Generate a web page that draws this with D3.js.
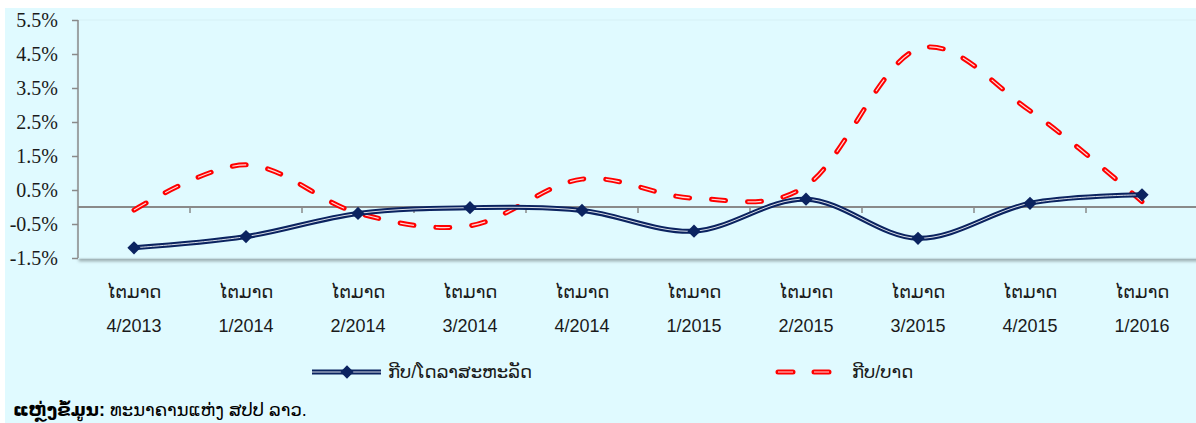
<!DOCTYPE html>
<html>
<head>
<meta charset="utf-8">
<script src="https://cdn.jsdelivr.net/npm/d3@7"></script>
<style>
  body { margin: 0; background: #fff; }
  svg { display: block; }
</style>
</head>
<body>
<svg width="1196" height="423"></svg>
<script>
// quarters along the x axis
var quarters = ["4/2013", "1/2014", "2/2014", "3/2014", "4/2014", "1/2015", "2/2015", "3/2015", "4/2015", "1/2016"];
var quarterWord = "ໄຕມາດ";
// kip / US dollar (%)
var kipUsd = [-1.20, -0.87, -0.19, -0.02, -0.10, -0.71, 0.23, -0.92, 0.11, 0.36];
// kip / baht (%)
var kipThb = [-0.09, 1.24, -0.18, -0.55, 0.82, 0.26, 0.62, 4.65, 2.83, 0.16];
var yTicks = [-1.5, -0.5, 0.5, 1.5, 2.5, 3.5, 4.5, 5.5];
var seriesNames = ["ກີບ/ໂດລາສະຫະລັດ", "ກີບ/ບາດ"];
var sourceBold = "ແຫຼ່ງຂໍ້ມູນ:";
var sourceText = " ທະນາຄານແຫ່ງ ສປປ ລາວ.";

var svg = d3.select("svg");
var bg = "#E0FAFF", navy = "#0B2360", red = "#FF0000", axisGray = "#8A8A8A";
var laoFont = "'Liberation Sans', 'DejaVu Sans', sans-serif";

svg.append("rect").attr("x", 5).attr("y", 8).attr("width", 1191).attr("height", 415).attr("fill", bg);

var defs = svg.append("defs");
var f = defs.append("filter").attr("id", "shadow").attr("x", "-5%").attr("y", "-5%").attr("width", "110%").attr("height", "120%");
f.append("feDropShadow").attr("dx", 1).attr("dy", 3).attr("stdDeviation", 1.5).attr("flood-color", "#000").attr("flood-opacity", 0.3);

var x = d3.scaleBand().domain(quarters).range([78, 1198]).padding(0);
var y = d3.scaleLinear().domain([-1.5, 5.5]).range([258, 20]);
var cx = function(i) { return x(quarters[i]) + x.bandwidth() / 2; };

// plot area
svg.append("rect").attr("x", 78).attr("y", 20).attr("width", 1120).attr("height", 238)
  .attr("fill", bg).attr("stroke", "#d4eef2").attr("stroke-width", 0.8).attr("filter", "url(#shadow)");

// y axis
var yAxis = svg.append("g").attr("transform", "translate(78,0)")
  .call(d3.axisLeft(y).tickValues(yTicks).tickSize(6).tickPadding(14)
    .tickFormat(function(d) { return d.toFixed(1) + "%"; }));
yAxis.select(".domain").attr("stroke", axisGray).attr("stroke-width", 1.5).attr("d", "M0,20V258");
yAxis.selectAll(".tick line").attr("stroke", axisGray).attr("stroke-width", 1.5);
yAxis.selectAll(".tick text").attr("font-family", "'Liberation Serif', 'DejaVu Serif', serif")
  .attr("font-size", 20).attr("fill", "#1a1a1a");

// zero line with category ticks
var zero = svg.append("g");
zero.append("line").attr("x1", 78).attr("x2", 1198).attr("y1", y(0)).attr("y2", y(0))
  .attr("stroke", axisGray).attr("stroke-width", 2);
zero.selectAll("line.tk").data(quarters.slice(1)).enter().append("line").attr("class", "tk")
  .attr("x1", function(d) { return x(d); }).attr("x2", function(d) { return x(d); })
  .attr("y1", y(0)).attr("y2", y(0) + 6).attr("stroke", axisGray).attr("stroke-width", 1.5);

// category labels (below plot)
var lab = svg.append("g").selectAll("g").data(quarters).enter().append("g")
  .attr("transform", function(d, i) { return "translate(" + cx(i) + ",0)"; });
lab.append("text").attr("y", 298).attr("text-anchor", "middle").attr("font-family", laoFont)
  .attr("font-size", 18).attr("fill", "#1a1a1a").text(quarterWord);
lab.append("text").attr("y", 332).attr("text-anchor", "middle").attr("font-family", laoFont)
  .attr("font-size", 18).attr("fill", "#1a1a1a").text(function(d) { return d; });

var line = d3.line().x(function(d, i) { return cx(i); }).y(function(d) { return y(d); })
  .curve(d3.curveCardinal.tension(0));

// kip / baht dashed
svg.append("path").attr("d", line(kipThb)).attr("fill", "none").attr("stroke", red)
  .attr("stroke-width", 5).attr("stroke-dasharray", "14,22").attr("stroke-linecap", "round");
svg.append("path").attr("d", line(kipThb)).attr("fill", "none").attr("stroke", "#fff")
  .attr("stroke-width", 1.2).attr("stroke-dasharray", "14,22").attr("opacity", 0.85);

// kip / usd
svg.append("path").attr("d", line(kipUsd)).attr("fill", "none").attr("stroke", navy).attr("stroke-width", 5);
svg.append("path").attr("d", line(kipUsd)).attr("fill", "none").attr("stroke", "#fff")
  .attr("stroke-width", 1).attr("opacity", 0.85);

var diamond = d3.symbol().type(d3.symbolSquare).size(88);
svg.selectAll("path.mk").data(kipUsd).enter().append("path").attr("class", "mk")
  .attr("d", diamond)
  .attr("transform", function(d, i) { return "translate(" + cx(i) + "," + y(d) + ") rotate(45)"; })
  .attr("fill", navy);

// legend
var lg = svg.append("g");
lg.append("line").attr("x1", 312).attr("x2", 381).attr("y1", 372).attr("y2", 372)
  .attr("stroke", navy).attr("stroke-width", 5);
lg.append("line").attr("x1", 312).attr("x2", 381).attr("y1", 372).attr("y2", 372)
  .attr("stroke", "#fff").attr("stroke-width", 1).attr("opacity", 0.85);
lg.append("path").attr("d", diamond).attr("transform", "translate(347,372) rotate(45)").attr("fill", navy);
lg.append("text").attr("x", 388).attr("y", 378).attr("font-family", laoFont).attr("font-size", 18)
  .attr("fill", "#1a1a1a").text(seriesNames[0]);

lg.append("line").attr("x1", 778).attr("x2", 829).attr("y1", 372).attr("y2", 372)
  .attr("stroke", red).attr("stroke-width", 5).attr("stroke-dasharray", "15,21").attr("stroke-linecap", "round");
lg.append("line").attr("x1", 778).attr("x2", 829).attr("y1", 372).attr("y2", 372)
  .attr("stroke", "#fff").attr("stroke-width", 1.2).attr("stroke-dasharray", "15,21").attr("opacity", 0.85);
lg.append("text").attr("x", 852).attr("y", 378).attr("font-family", laoFont).attr("font-size", 18)
  .attr("fill", "#1a1a1a").text(seriesNames[1]);

// source note
var src = svg.append("text").attr("x", 13).attr("y", 416).attr("font-family", laoFont)
  .attr("font-size", 18).attr("fill", "#000");
src.append("tspan").attr("font-weight", "bold").text(sourceBold);
src.append("tspan").text(sourceText);
</script>
</body>
</html>
